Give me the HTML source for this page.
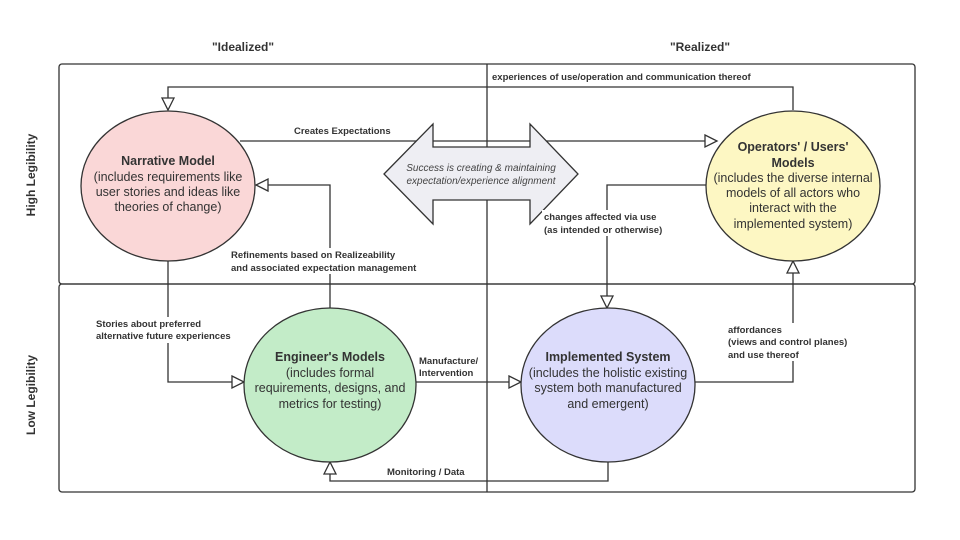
<!DOCTYPE html>
<html><head><meta charset="utf-8"><style>
body{margin:0;background:#fff}
svg{display:block;font-family:"Liberation Sans",sans-serif}
</style></head><body>
<svg width="960" height="540" viewBox="0 0 960 540" xmlns="http://www.w3.org/2000/svg">
<defs>
<marker id="a" markerWidth="16" markerHeight="16" refX="13" refY="7" orient="auto" markerUnits="userSpaceOnUse">
<path d="M1,1 L13,7 L1,13 Z" fill="#fff" stroke="#333" stroke-width="1.3"/>
</marker>
</defs>
<g fill="none" stroke="#333" stroke-width="1.3">
<rect x="59" y="64" width="856" height="220" rx="3"/>
<rect x="59" y="284" width="856" height="208" rx="3"/>
<line x1="487" y1="64" x2="487" y2="492"/>
</g>
<text x="243" y="51" font-size="12" font-weight="bold" fill="#333" text-anchor="middle">"Idealized"</text>
<text x="700" y="51" font-size="12" font-weight="bold" fill="#333" text-anchor="middle">"Realized"</text>
<text transform="translate(35,175) rotate(-90)" font-size="12" font-weight="bold" fill="#333" text-anchor="middle">High Legibility</text>
<text transform="translate(35,395) rotate(-90)" font-size="12" font-weight="bold" fill="#333" text-anchor="middle">Low Legibility</text>

<g fill="none" stroke="#333" stroke-width="1.3">
<path d="M793,110 L793,87 L168,87 L168,110" marker-end="url(#a)"/>
<path d="M240,141 L717,141" marker-end="url(#a)"/>
<path d="M330,308 L330,185 L256,185" marker-end="url(#a)"/>
<path d="M706,185 L607,185 L607,308" marker-end="url(#a)"/>
<path d="M168,261 L168,382 L244,382" marker-end="url(#a)"/>
<path d="M416,382 L521,382" marker-end="url(#a)"/>
<path d="M695,382 L793,382 L793,261" marker-end="url(#a)"/>
<path d="M608,462 L608,481 L330,481 L330,462" marker-end="url(#a)"/>
</g>

<path d="M384,174 L433,124 L433,147 L530,147 L530,124 L578,174 L530,224 L530,200 L433,200 L433,224 Z" fill="#eeeef3" stroke="#333" stroke-width="1.3"/>
<text x="481" y="171" font-size="10" font-style="italic" fill="#444" text-anchor="middle">Success is creating &amp; maintaining</text>
<text x="481" y="184" font-size="10" font-style="italic" fill="#444" text-anchor="middle">expectation/experience alignment</text>

<ellipse cx="168" cy="186" rx="87" ry="75" fill="#fad7d7" stroke="#333" stroke-width="1.3"/>
<ellipse cx="793" cy="186" rx="87" ry="75" fill="#fdf7c3" stroke="#333" stroke-width="1.3"/>
<ellipse cx="330" cy="385" rx="86" ry="77" fill="#c3ecc8" stroke="#333" stroke-width="1.3"/>
<ellipse cx="608" cy="385" rx="87" ry="77" fill="#dcdcfb" stroke="#333" stroke-width="1.3"/>

<g font-size="12.5" fill="#333" text-anchor="middle">
<text x="168" y="165" font-weight="bold">Narrative Model</text>
<text x="168" y="181">(includes requirements like</text>
<text x="168" y="196">user stories and ideas like</text>
<text x="168" y="211">theories of change)</text>
<text x="793" y="151" font-weight="bold">Operators' / Users'</text>
<text x="793" y="167" font-weight="bold">Models</text>
<text x="793" y="182">(includes the diverse internal</text>
<text x="793" y="197">models of all actors who</text>
<text x="793" y="212">interact with the</text>
<text x="793" y="228">implemented system)</text>
<text x="330" y="361" font-weight="bold">Engineer's Models</text>
<text x="330" y="377">(includes formal</text>
<text x="330" y="392">requirements, designs, and</text>
<text x="330" y="408">metrics for testing)</text>
<text x="608" y="361" font-weight="bold">Implemented System</text>
<text x="608" y="377">(includes the holistic existing</text>
<text x="608" y="392">system both manufactured</text>
<text x="608" y="408">and emergent)</text>
</g>
<g fill="#fff">
<rect x="229" y="248" width="190" height="26"/>
<rect x="542" y="210" width="124" height="26"/>
<rect x="94" y="317" width="140" height="26"/>
<rect x="726" y="323" width="124" height="38"/>
</g>
<g font-size="9.5" font-weight="bold" fill="#333">
<text x="492" y="80">experiences of use/operation and communication thereof</text>
<text x="294" y="134">Creates Expectations</text>
<text x="231" y="258">Refinements based on Realizeability</text>
<text x="231" y="271">and associated expectation management</text>
<text x="544" y="220">changes affected via use</text>
<text x="544" y="233">(as intended or otherwise)</text>
<text x="96" y="327">Stories about preferred</text>
<text x="96" y="339">alternative future experiences</text>
<text x="419" y="364">Manufacture/</text>
<text x="419" y="376">Intervention</text>
<text x="728" y="333">affordances</text>
<text x="728" y="345">(views and control planes)</text>
<text x="728" y="358">and use thereof</text>
<text x="387" y="475">Monitoring / Data</text>
</g>
</svg>
</body></html>
